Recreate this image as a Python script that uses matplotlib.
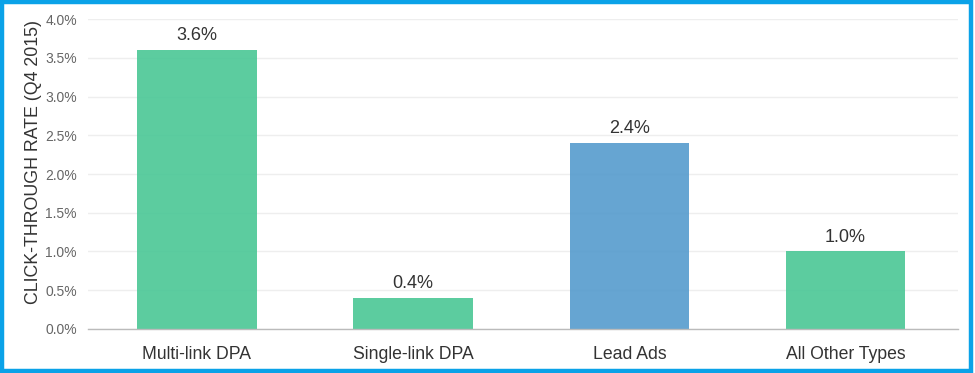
import matplotlib
matplotlib.use('Agg')
import matplotlib.pyplot as plt
from matplotlib.patches import Rectangle
from matplotlib.ticker import FuncFormatter

#------------- Data -------------#
categories = ['Multi-link DPA', 'Single-link DPA', 'Lead Ads', 'All Other Types']
ctr = [3.6, 0.4, 2.4, 1.0]
bar_colors = ['#4ac795', '#4ac795', '#559bcd', '#4ac795']
y_ticks = [0.0, 0.5, 1.0, 1.5, 2.0, 2.5, 3.0, 3.5, 4.0]

#------------- Style -------------#
plt.rcParams['font.family'] = ['Liberation Sans', 'DejaVu Sans']

fig = plt.figure(figsize=(9.75, 3.73), dpi=100)
ax = fig.add_axes([0.0903, 0.118, 0.8923, 0.831])

xs = range(len(categories))
ax.bar(xs, ctr, width=0.553, color=bar_colors, alpha=0.9, zorder=2)

# value labels above each bar
for x, v in zip(xs, ctr):
    ax.annotate(f'{v:.1f}%', (x, v), xytext=(0, 4), textcoords='offset points',
                ha='center', va='bottom', fontsize=13, color='#333333')

ax.set_xlim(-0.503, 3.52)
ax.set_ylim(0, 4.0)
ax.set_xticks(list(xs))
ax.set_xticklabels(categories, fontsize=12.7, color='#333333')
ax.set_yticks(y_ticks)
ax.yaxis.set_major_formatter(FuncFormatter(lambda v, _: f'{v:.1f}%'))
ax.tick_params(axis='y', labelsize=10, labelcolor='#666666', length=0, pad=8)
ax.tick_params(axis='x', length=0, pad=12)
ax.set_ylabel('CLICK-THROUGH RATE (Q4 2015)', fontsize=12.8, color='#333333')
ax.yaxis.set_label_coords(-0.053, 0.539)

ax.grid(axis='y', color='#eeeeee', linewidth=1, zorder=0)
ax.set_axisbelow(True)
for side in ['top', 'right', 'left']:
    ax.spines[side].set_visible(False)
ax.spines['bottom'].set_color('#bbbbbb')
ax.spines['bottom'].set_linewidth(1)

# blue frame round the whole picture
fig.patches.append(Rectangle((0.002, 0.005), 0.994, 0.99, transform=fig.transFigure,
                             fill=False, edgecolor='#0aa2e8', linewidth=3.2))

fig.savefig('out.png', dpi=100)
